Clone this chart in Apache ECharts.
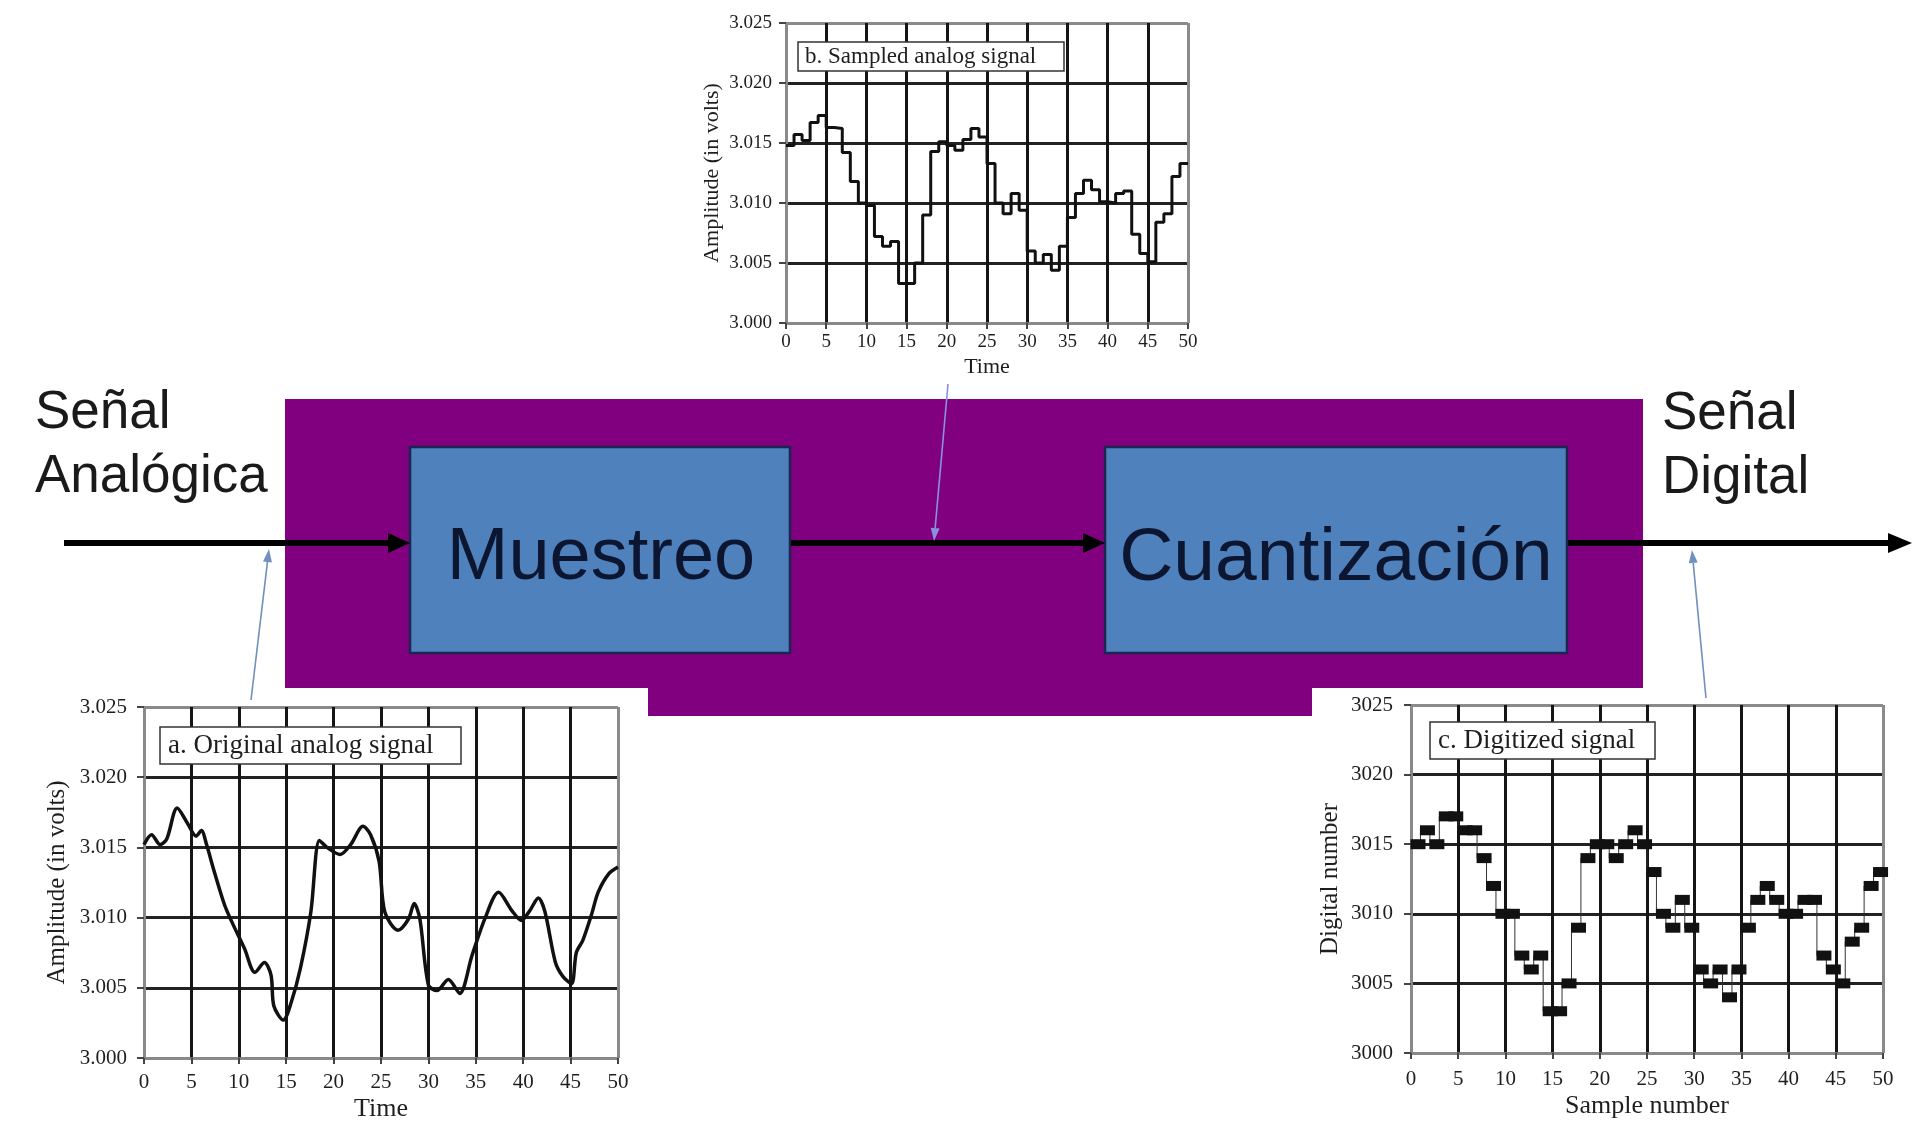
<!DOCTYPE html>
<html><head><meta charset="utf-8">
<script src="https://cdn.jsdelivr.net/npm/echarts@6/dist/echarts.min.js"></script>
<style>html,body{margin:0;padding:0;background:#fff}#c{width:1926px;height:1123px}</style>
</head><body><div id="c"></div>
<script>
// ---- data ----
const timeTicks = ['0','5','10','15','20','25','30','35','40','45','50'];
const voltTicks = ['3.000','3.005','3.010','3.015','3.020','3.025'];
const digitalTicks = ['3000','3005','3010','3015','3020','3025'];

// a. Original analog signal (time, volts)
const analogTime = [0,0.8,1.7,2.4,3.5,4.6,5.5,6.05,6.6,7.4,8.5,9.4,10.6,11.7,12.7,13.4,13.7,14.7,15.5,16.5,17.6,18.5,19.3,20.7,21.8,23.1,23.9,24.8,25.4,26.8,27.9,28.5,29.1,30,30.9,32.1,33.3,34.6,36,37.4,38.8,39.8,40.7,41.6,42.3,43.4,44.2,45.1,45.6,46.3,47.2,47.9,49,50];
const analogVolts = [3.0152,3.0159,3.0152,3.0156,3.0178,3.0167,3.0158,3.0162,3.0152,3.0133,3.0109,3.0095,3.0078,3.0061,3.0068,3.0059,3.0037,3.0027,3.0039,3.0064,3.0104,3.0155,3.0150,3.0145,3.0152,3.0165,3.0159,3.0140,3.0104,3.0091,3.0099,3.0110,3.0099,3.0052,3.0048,3.0056,3.0046,3.0073,3.0100,3.0118,3.0105,3.0098,3.0105,3.0114,3.0104,3.0068,3.0058,3.0053,3.0075,3.0084,3.0102,3.0118,3.0131,3.0136];

// b. Sampled analog signal, samples 0..49 (held to next sample)
const sampledVolts = [3.0148,3.0157,3.0152,3.0167,3.0173,3.0163,3.0162,3.0142,3.0118,3.0100,
  3.0098,3.0072,3.0064,3.0068,3.0033,3.0033,3.0050,3.0090,3.0143,3.0151,
  3.0148,3.0144,3.0153,3.0162,3.0155,3.0133,3.0100,3.0091,3.0108,3.0094,
  3.0060,3.0050,3.0057,3.0044,3.0064,3.0088,3.0108,3.0119,3.0111,3.0101,
  3.0100,3.0108,3.0110,3.0074,3.0058,3.0051,3.0084,3.0091,3.0122,3.0133];

// c. Digitized signal, samples 0..49
const digitalNumbers = [3015,3016,3015,3017,3017,3016,3016,3014,3012,3010,
  3010,3007,3006,3007,3003,3003,3005,3009,3014,3015,
  3015,3014,3015,3016,3015,3013,3010,3009,3011,3009,
  3006,3005,3006,3004,3006,3009,3011,3012,3011,3010,
  3010,3011,3011,3007,3006,3005,3008,3009,3012,3013];

// ---- helpers ----
const SERIF = '"Liberation Serif", "Times New Roman", serif';
const SANS = '"Liberation Sans", Arial, sans-serif';
function fmt(labels, min, step){ return v => { const i = Math.round((v-min)/step); return labels[i] !== undefined ? labels[i] : ''; }; }
function edgeColors(n, edge, inner){ const a=[]; for(let i=0;i<n;i++) a.push(i===0||i===n-1?edge:inner); return a; }

function xAx(gi, size, name, nameSize, gap, margin){
  return { gridIndex: gi, type:'value', min:0, max:50, interval:5,
    axisLine:{show:true, lineStyle:{color:'#888', width:1.5}},
    axisTick:{show:true, length:6, lineStyle:{color:'#444', width:2}},
    axisLabel:{formatter: fmt(timeTicks,0,5), fontFamily:SERIF, fontSize:size, color:'#1e1e1e', margin:margin},
    splitLine:{show:true, lineStyle:{color: edgeColors(11,'#8a8a8a','#151515'), width:3}},
    name:name, nameLocation:'middle', nameGap:gap, nameTextStyle:{fontFamily:SERIF, fontSize:nameSize, color:'#1e1e1e'} };
}
function yAx(gi, min, max, step, labels, size, name, nameSize, gap, margin){
  return { gridIndex: gi, type:'value', min:min, max:max, interval:step,
    axisLine:{show:true, lineStyle:{color:'#888', width:1.5}},
    axisTick:{show:true, length:7, lineStyle:{color:'#444', width:2}},
    axisLabel:{formatter: fmt(labels,min,step), fontFamily:SERIF, fontSize:size, color:'#1e1e1e', margin:margin},
    splitLine:{show:true, lineStyle:{color: edgeColors(6,'#8a8a8a','#222'), width:3}},
    name:name, nameLocation:'middle', nameGap:gap, nameRotate:90, nameTextStyle:{fontFamily:SERIF, fontSize:nameSize, color:'#1e1e1e'} };
}

const analogData = analogTime.map((t,i)=>[t, analogVolts[i]]);
const sampledData = sampledVolts.map((v,i)=>[i, v]);
sampledData.push([sampledVolts.length, sampledVolts[sampledVolts.length-1]]);
const digitalData = digitalNumbers.map((v,i)=>[i, v]);
digitalData.push({value:[digitalNumbers.length, digitalNumbers[digitalNumbers.length-1]], symbol:'none'});

// pointer arrow helper (thin blue line with small head)
function pointer(x1,y1,x2,y2,color){
  const dx=x2-x1, dy=y2-y1, L=Math.hypot(dx,dy), ux=dx/L, uy=dy/L, px=-uy, py=ux;
  const bx=x2-ux*13, by=y2-uy*13;
  return [
    {type:'line', z:20, shape:{x1:x1,y1:y1,x2:bx,y2:by}, style:{stroke:color, lineWidth:1.6}},
    {type:'polygon', z:20, shape:{points:[[x2,y2],[bx+px*4.5,by+py*4.5],[bx-px*4.5,by-py*4.5]]}, style:{fill:color}}
  ];
}
function head(tipX, y, len, half){
  return {type:'polygon', z:12, shape:{points:[[tipX,y],[tipX-len,y-half],[tipX-len,y+half]]}, style:{fill:'#000'}};
}
const PURPLE='#800080', BLUE='#4f81bd', NAVY='#1b2550';
const lineY = 543;
function label(text, x, y, size, color, align){
  return {type:'text', z:11, x:x, y:y, style:{text:text, font:size+'px '+SANS, fill:color, textAlign:align, textVerticalAlign:'middle', align:align, verticalAlign:'middle'}};
}

const graphics = [
  {type:'rect', z:1, shape:{x:285,y:399,width:1358,height:289}, style:{fill:PURPLE}},
  {type:'rect', z:1, shape:{x:648,y:687,width:664,height:29}, style:{fill:PURPLE}},
  {type:'line', z:5, shape:{x1:64,y1:lineY,x2:392,y2:lineY}, style:{stroke:'#000', lineWidth:6}},
  head(410, lineY, 22, 10),
  {type:'line', z:5, shape:{x1:790,y1:lineY,x2:1087,y2:lineY}, style:{stroke:'#000', lineWidth:6}},
  head(1105, lineY, 22, 10),
  {type:'line', z:5, shape:{x1:1567,y1:lineY,x2:1892,y2:lineY}, style:{stroke:'#000', lineWidth:6}},
  head(1912, lineY, 24, 10),
  {type:'rect', z:10, shape:{x:410,y:447,width:380,height:206}, style:{fill:BLUE, stroke:NAVY, lineWidth:2.5}},
  {type:'rect', z:10, shape:{x:1105,y:447,width:462,height:206}, style:{fill:BLUE, stroke:NAVY, lineWidth:2.5}},
  label('Muestreo', 601, 559, 74, '#0c1630', 'center'),
  label('Cuantización', 1336, 559, 75, '#0c1630', 'center'),
  label('Señal', 35, 413, 53, '#1a1a1a', 'left'),
  label('Analógica', 35, 477, 53, '#1a1a1a', 'left'),
  label('Señal', 1662, 414, 53, '#1a1a1a', 'left'),
  label('Digital', 1662, 478, 53, '#1a1a1a', 'left')
].concat(pointer(251,700,269,549,'#7090c0'), pointer(948,384,934,541,'#8a90e0'), pointer(1706,698,1692,550,'#7090c0'));

const boxTitle = (text, left, top, size, pad) => ({ text:text, left:left, top:top, padding:pad,
  backgroundColor:'#fff', borderColor:'#333', borderWidth:1.5,
  textStyle:{fontFamily:SERIF, fontSize:size, fontWeight:'normal', color:'#1e1e1e'} });

const option = {
  animation:false,
  backgroundColor:'#fff',
  title:[
    boxTitle('b. Sampled analog signal', 798, 42, 23, [3,28,3,7]),
    boxTitle('a. Original analog signal', 160, 727, 27, [5,28,5,8]),
    boxTitle('c. Digitized signal', 1430, 722, 27, [5,20,5,8])
  ],
  grid:[
    {left:786, top:23, width:402, height:300},
    {left:144, top:707, width:474, height:352},
    {left:1411, top:705, width:472, height:348}
  ],
  xAxis:[
    xAx(0, 19, 'Time', 22, 33, 10),
    xAx(1, 21, 'Time', 26, 38, 14),
    xAx(2, 21, 'Sample number', 26, 40, 16)
  ],
  yAxis:[
    yAx(0, 3.0, 3.025, 0.005, voltTicks, 19, 'Amplitude (in volts)', 22, 63, 14),
    yAx(1, 3.0, 3.025, 0.005, voltTicks, 21, 'Amplitude (in volts)', 25, 74, 17),
    yAx(2, 3000, 3025, 5, digitalTicks, 21, 'Digital number', 25, 68, 18)
  ],
  series:[
    {type:'line', xAxisIndex:0, yAxisIndex:0, data:sampledData, step:'end', symbol:'none',
      lineStyle:{color:'#111', width:3}, z:3},
    {type:'line', xAxisIndex:1, yAxisIndex:1, data:analogData, smooth:0.3, symbol:'none',
      lineStyle:{color:'#111', width:3.5}, z:3},
    {type:'line', xAxisIndex:2, yAxisIndex:2, data:digitalData, step:'end', symbol:'rect', symbolSize:[15,10], symbolOffset:[7,0],
      showAllSymbol:true, lineStyle:{color:'#333', width:1}, itemStyle:{color:'#111'}, z:3}
  ],
  graphic:graphics
};
const chart = echarts.init(document.getElementById('c'), null, {renderer:'canvas'});
chart.setOption(option);
</script></body></html>
